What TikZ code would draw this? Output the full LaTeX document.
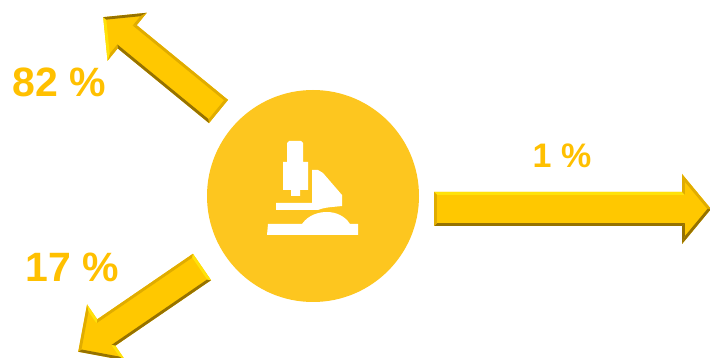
\documentclass[tikz,border=0pt]{standalone}
\usepackage{fontspec}
\setmainfont{Liberation Sans}
\usepackage{xcolor}
\usepackage{tikz}
\usetikzlibrary{calc}
\definecolor{discgold} {RGB}{253,198,31}
\definecolor{textgold} {RGB}{255,192,0}
\definecolor{bodygold} {RGB}{255,200,0}
\definecolor{edgelight}{RGB}{255,226,10}
\definecolor{edgemid}  {RGB}{224,172,0}
\definecolor{edgedark} {RGB}{150,114,0}
\tikzset{
  pctlabel/.style={text=textgold, font=\fontsize{#1}{#1}\selectfont\bfseries, inner sep=0pt},
  pctlabel/.default=41,
  scopedisc/.style={circle, fill=discgold, minimum size=212pt, inner sep=0pt},
  scopepart/.style={fill=white},
}
% edge colours: shaft +y, shaft -y, tail, wing back +y, wing front +y, wing front -y, wing back -y
\newcommand{\setedges}[7]{%
  \colorlet{ea}{#1}\colorlet{eb}{#2}\colorlet{ec}{#3}\colorlet{ed}{#4}%
  \colorlet{ee}{#5}\colorlet{ef}{#6}\colorlet{eg}{#7}}
% tail centre, angle, length, half shaft, half head, head length
\newcommand{\bevelarrow}[6]{%
  \begin{scope}[shift={(#1)},rotate=#2]
    \pgfmathsetmacro{\sx}{#3-#6}
    \pgfmathsetmacro{\ins}{2.8}
    \pgfmathsetmacro{\ix}{\sx+\ins}
    \pgfmathsetmacro{\iw}{#4-\ins}
    \pgfmathsetmacro{\itip}{#3-\ins*sqrt(#6*#6+#5*#5)/#5}
    \pgfmathsetmacro{\iW}{(\itip-\ix)*#5/#6}
    \fill[bodygold] (0,#4)--(\sx,#4)--(\sx,#5)--(#3,0)--(\sx,-#5)--(\sx,-#4)--(0,-#4)--cycle;
    \fill[ea] (0,#4)--(\sx,#4)--(\ix,\iw)--(\ins,\iw)--cycle;
    \fill[eb] (0,-#4)--(\sx,-#4)--(\ix,-\iw)--(\ins,-\iw)--cycle;
    \fill[ec] (0,#4)--(0,-#4)--(\ins,-\iw)--(\ins,\iw)--cycle;
    \fill[ed] (\sx,#4)--(\sx,#5)--(\ix,\iW)--(\ix,\iw)--cycle;
    \fill[ee] (\sx,#5)--(#3,0)--(\itip,0)--(\ix,\iW)--cycle;
    \fill[ef] (\sx,-#5)--(#3,0)--(\itip,0)--(\ix,-\iW)--cycle;
    \fill[eg] (\sx,-#4)--(\sx,-#5)--(\ix,-\iW)--(\ix,-\iw)--cycle;
  \end{scope}}

\begin{document}
\begin{tikzpicture}[x=1pt,y=1pt]
  \clip (0,0) rectangle (710,-358);
  \fill[white] (0,0) rectangle (710,-358);

  \node[scopedisc] (disc) at (313,-196) {};

  % microscope
  \fill[scopepart] (289,-141) -- (301,-141) -- (303,-143) -- (303,-162) -- (308,-162)
    -- (308,-190) -- (300,-190) -- (300,-196) -- (291,-196) -- (291,-190) -- (283,-190)
    -- (283,-162) -- (287,-162) -- (287,-143) -- cycle;
  \fill[scopepart] (276,-203) -- (312,-203) -- (312,-170) -- (318,-170) -- (323,-173)
    -- (342,-195) -- (342,-206) .. controls (334,-207) and (325,-207) .. (318,-210)
    -- (276,-210) -- cycle;
  \fill[scopepart] (268,-224) -- (302,-224) .. controls (309,-214) and (320,-212) .. (327,-212)
    .. controls (336,-212) and (345,-216) .. (350,-224) -- (358,-224) -- (358,-235)
    -- (267,-235) -- cycle;

  % arrows
  \setedges{edgedark}{edgemid}{edgemid}{edgemid}{edgelight}{edgedark}{edgemid}
  \bevelarrow{218.5,-111.5}{140.7}{149}{15}{31}{31}
  \setedges{edgelight}{edgedark}{edgemid}{edgemid}{edgemid}{edgedark}{edgedark}
  \bevelarrow{434,-209}{0}{277}{17}{35}{29}
  \setedges{edgedark}{edgemid}{edgelight}{edgelight}{edgedark}{edgemid}{edgelight}
  \bevelarrow{202,-267}{214.4}{150}{16}{34}{34}

  \node[pctlabel] (upper) at (59,-82) {82 \%};
  \node[pctlabel=34] (right) at (562,-156) {1 \%};
  \node[pctlabel] (lower) at (72,-267) {17 \%};
\end{tikzpicture}
\end{document}
